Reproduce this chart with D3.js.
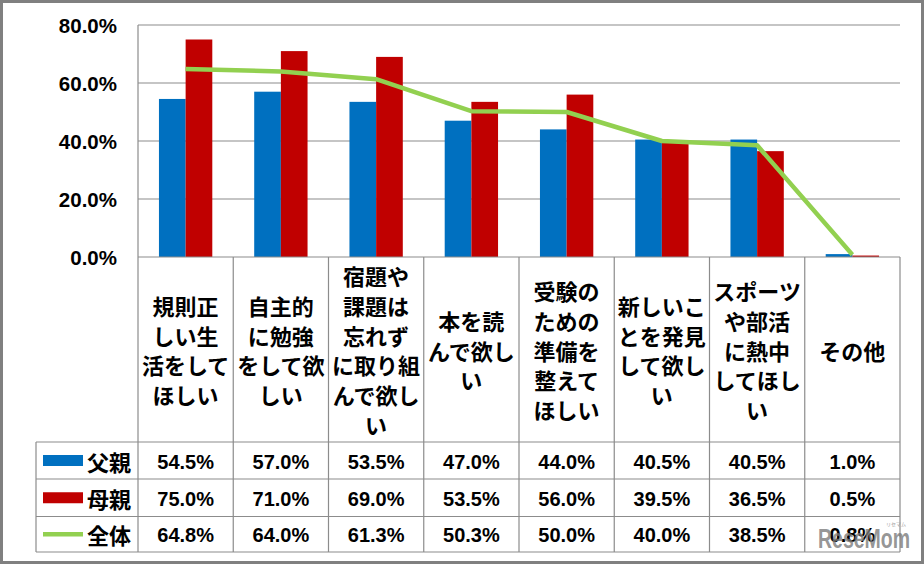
<!DOCTYPE html>
<html>
<head>
<meta charset="utf-8">
<script src="https://cdn.jsdelivr.net/npm/d3@7"></script>
<style>
  html, body { margin: 0; padding: 0; background: #fff; }
  svg { display: block; }
</style>
</head>
<body>
<svg id="chart" width="924" height="564"></svg>
<script>
// ---- Data ----
const categories = [
  "規則正しい生活をしてほしい",
  "自主的に勉強をして欲しい",
  "宿題や課題は忘れずに取り組んで欲しい",
  "本を読んで欲しい",
  "受験のための準備を整えてほしい",
  "新しいことを発見して欲しい",
  "スポーツや部活に熱中してほしい",
  "その他"
];
const categoryLines = [
  ["規則正", "しい生", "活をして", "ほしい"],
  ["自主的", "に勉強", "をして欲", "しい"],
  ["宿題や", "課題は", "忘れず", "に取り組", "んで欲し", "い"],
  ["本を読", "んで欲し", "い"],
  ["受験の", "ための", "準備を", "整えて", "ほしい"],
  ["新しいこ", "とを発見", "して欲し", "い"],
  ["スポーツ", "や部活", "に熱中", "してほし", "い"],
  ["その他"]
];
const seriesNames = ["父親", "母親", "全体"];
const fatherValues = [54.5, 57.0, 53.5, 47.0, 44.0, 40.5, 40.5, 1.0];
const motherValues = [75.0, 71.0, 69.0, 53.5, 56.0, 39.5, 36.5, 0.5];
const totalValues  = [64.8, 64.0, 61.3, 50.3, 50.0, 40.0, 38.5, 0.8];
const yTicks = [0, 20, 40, 60, 80];

// ---- Layout ----
const W = 924, H = 564;
const plotLeft = 138, plotRight = 900, plotTop = 25, plotBottom = 257;
const tableLeft = 36;
const labelRowBottom = 442;
const rowBottoms = [479, 516.5, 552];
const colors = { father: "#0070C0", mother: "#C00000", total: "#92D050" };
const gridColor = "#8C8C8C";
const numFont = "'Liberation Sans Narrow','Arial Narrow','Liberation Sans',Arial,sans-serif";
const jpFont = "'Noto Sans CJK JP','Noto Sans CJK SC',sans-serif";

const svg = d3.select("#chart");

svg.append("rect").attr("x", 0).attr("y", 0).attr("width", W).attr("height", H).attr("fill", "#fff");

const x = d3.scaleBand().domain(categories).range([plotLeft, plotRight]).paddingInner(0).paddingOuter(0);
const bw = x.bandwidth();
const xs = d3.scaleBand().domain(["father", "mother"]).range([bw * 0.22, bw * 0.78]).padding(0);
const y = d3.scaleLinear().domain([0, 80]).range([plotBottom, plotTop]);

// gridlines
svg.append("g").selectAll("line").data(yTicks.filter(t => t > 0)).join("line")
  .attr("x1", plotLeft).attr("x2", plotRight)
  .attr("y1", d => y(d)).attr("y2", d => y(d))
  .attr("stroke", gridColor).attr("stroke-width", 1.2);

// y tick labels
svg.append("g").selectAll("text").data(yTicks).join("text")
  .attr("x", 117).attr("y", d => y(d))
  .attr("text-anchor", "end").attr("dominant-baseline", "central")
  .attr("font-family", numFont).attr("font-weight", "bold").attr("font-size", 20.5)
  .attr("fill", "#000")
  .text(d => d.toFixed(1) + "%");

// bars
const barData = [];
categories.forEach((c, i) => {
  barData.push({ c, s: "father", v: fatherValues[i] });
  barData.push({ c, s: "mother", v: motherValues[i] });
});
svg.append("g").selectAll("rect").data(barData).join("rect")
  .attr("x", d => x(d.c) + xs(d.s))
  .attr("width", xs.bandwidth())
  .attr("y", d => y(d.v))
  .attr("height", d => y(0) - y(d.v))
  .attr("fill", d => colors[d.s]);

// total line
const line = d3.line().x((d, i) => x(categories[i]) + bw / 2).y(d => y(d));
svg.append("path").datum(totalValues)
  .attr("d", line).attr("fill", "none")
  .attr("stroke", colors.total).attr("stroke-width", 4.5)
  .attr("stroke-linejoin", "round");

// table grid
const g = svg.append("g").attr("stroke", gridColor).attr("stroke-width", 1.2);
g.append("line").attr("x1", plotLeft).attr("x2", plotRight).attr("y1", plotBottom).attr("y2", plotBottom);
[labelRowBottom, ...rowBottoms].forEach(yy => {
  g.append("line").attr("x1", tableLeft).attr("x2", plotRight).attr("y1", yy).attr("y2", yy);
});
g.append("line").attr("x1", plotLeft).attr("x2", plotLeft).attr("y1", plotTop).attr("y2", rowBottoms[2]);
categories.forEach((c, i) => {
  const xx = x(c) + bw;
  g.append("line").attr("x1", xx).attr("x2", xx).attr("y1", plotBottom).attr("y2", rowBottoms[2]);
});
g.append("line").attr("x1", tableLeft).attr("x2", tableLeft).attr("y1", labelRowBottom).attr("y2", rowBottoms[2]);

// category labels
const lineH = 29.8;
const labelCenter = (plotBottom + labelRowBottom) / 2;
categories.forEach((c, i) => {
  const lines = categoryLines[i];
  const cx = x(c) + bw / 2;
  const y0 = labelCenter - (lines.length - 1) * lineH / 2;
  svg.append("g").selectAll("text").data(lines).join("text")
    .attr("x", cx).attr("y", (d, k) => y0 + k * lineH)
    .attr("text-anchor", "middle").attr("dominant-baseline", "central")
    .attr("font-family", jpFont).attr("font-weight", "bold").attr("font-size", 22)
    .attr("fill", "#000")
    .text(d => d);
});

// table rows
const rowTops = [labelRowBottom, rowBottoms[0], rowBottoms[1]];
const rowValues = [fatherValues, motherValues, totalValues];
const seriesKeys = ["father", "mother", "total"];
rowValues.forEach((vals, r) => {
  const cy = (rowTops[r] + rowBottoms[r]) / 2;
  if (seriesKeys[r] === "total") {
    svg.append("line").attr("x1", 43).attr("x2", 83).attr("y1", cy).attr("y2", cy)
      .attr("stroke", colors.total).attr("stroke-width", 4.5);
  } else {
    svg.append("rect").attr("x", 43).attr("y", cy - 5.5).attr("width", 40).attr("height", 11)
      .attr("fill", colors[seriesKeys[r]]);
  }
  svg.append("text").attr("x", 87).attr("y", cy)
    .attr("dominant-baseline", "central")
    .attr("font-family", jpFont).attr("font-weight", "bold").attr("font-size", 22)
    .attr("fill", "#000").text(seriesNames[r]);
  svg.append("g").selectAll("text").data(vals).join("text")
    .attr("x", (d, i) => x(categories[i]) + bw / 2).attr("y", cy + 1)
    .attr("text-anchor", "middle").attr("dominant-baseline", "central")
    .attr("font-family", numFont).attr("font-weight", "bold").attr("font-size", 20)
    .attr("fill", "#000")
    .text(d => d.toFixed(1) + "%");
});

// watermark
svg.append("text").attr("x", 818).attr("y", 548)
  .attr("textLength", 92).attr("lengthAdjust", "spacingAndGlyphs")
  .attr("font-family", numFont).attr("font-weight", "bold").attr("font-size", 27)
  .attr("fill", "#7a7a7a").attr("fill-opacity", 0.8)
  .text("ReseMom");
svg.append("text").attr("x", 896).attr("y", 526)
  .attr("text-anchor", "middle")
  .attr("font-family", jpFont).attr("font-size", 5)
  .attr("fill", "#9a9a9a")
  .text("リセマム");

// outer frame
svg.append("rect").attr("x", 1.5).attr("y", 1.5).attr("width", W - 3).attr("height", H - 3)
  .attr("fill", "none").attr("stroke", "#808080").attr("stroke-width", 3);
</script>
</body>
</html>
